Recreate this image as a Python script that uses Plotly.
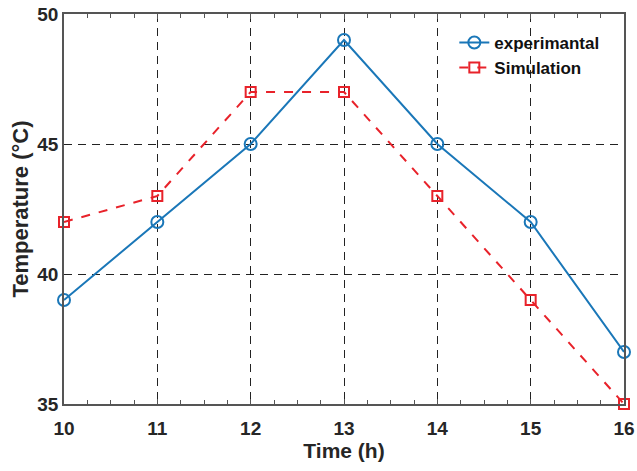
import plotly.graph_objects as go

hours = [10, 11, 12, 13, 14, 15, 16]
experimental = [39, 42, 45, 49, 45, 42, 37]
simulation = [42, 43, 47, 47, 43, 39, 35]
x_ticks = [10, 11, 12, 13, 14, 15, 16]
y_ticks = [35, 40, 45, 50]

blue = "#1A77B8"
red = "#E8222A"
FONT = "Liberation Sans, Arial, sans-serif"

fig = go.Figure()
fig.add_trace(go.Scatter(
    x=hours, y=experimental, name="<b>experimantal</b>", mode="lines+markers",
    line=dict(color=blue, width=2),
    marker=dict(symbol="circle-open", size=12, color=blue, line=dict(width=2)),
    cliponaxis=False,
))
fig.add_trace(go.Scatter(
    x=hours, y=simulation, name="<b>Simulation</b>", mode="lines+markers",
    line=dict(color=red, width=2, dash="dash"),
    marker=dict(symbol="square-open", size=10, color=red, line=dict(width=2)),
    cliponaxis=False,
))

axis_font = dict(family=FONT, size=19, color="#262626")

fig.update_layout(
    width=637, height=471,
    margin=dict(l=64, r=13, t=14, b=67),
    paper_bgcolor="white", plot_bgcolor="white",
    font=dict(family=FONT, color="#262626"),
    showlegend=True,
    legend=dict(
        x=0.697, y=0.972, xanchor="left", yanchor="top",
        bgcolor="rgba(255,255,255,0)", borderwidth=0,
        font=dict(family=FONT, size=17, color="#111111"),
        itemwidth=30, tracegroupgap=0,
    ),
    xaxis=dict(
        range=[10, 16], tickvals=x_ticks, ticktext=[f"<b>{v}</b>" for v in x_ticks],
        tickfont=axis_font, ticks="inside", ticklen=5, tickcolor="#555555",
        ticklabelstandoff=6,
        showline=True, linecolor="#555555", linewidth=1.5, mirror="ticks",
        showgrid=True, gridcolor="#222222", gridwidth=1, griddash="8px,6px",
        minor=dict(dtick=0.25, tick0=10, ticks="inside", ticklen=4, tickcolor="#555555", showgrid=False),
        zeroline=False, automargin="bottom",
        title=dict(text="<b>Time (h)</b>", font=dict(family=FONT, size=21, color="#262626"), standoff=6),
    ),
    yaxis=dict(
        range=[35, 50], tickvals=y_ticks, ticktext=[f"<b>{v}</b>" for v in y_ticks],
        tickfont=axis_font, ticks="", tickcolor="#555555",
        showline=True, linecolor="#555555", linewidth=1.5, mirror=True,
        showgrid=True, gridcolor="#222222", gridwidth=1, griddash="8px,6px",
        zeroline=False, automargin="left",
        title=dict(text="<b>Temperature (°C)</b>", font=dict(family=FONT, size=22, color="#262626"), standoff=3),
    ),
)

fig.write_html("out.html")
